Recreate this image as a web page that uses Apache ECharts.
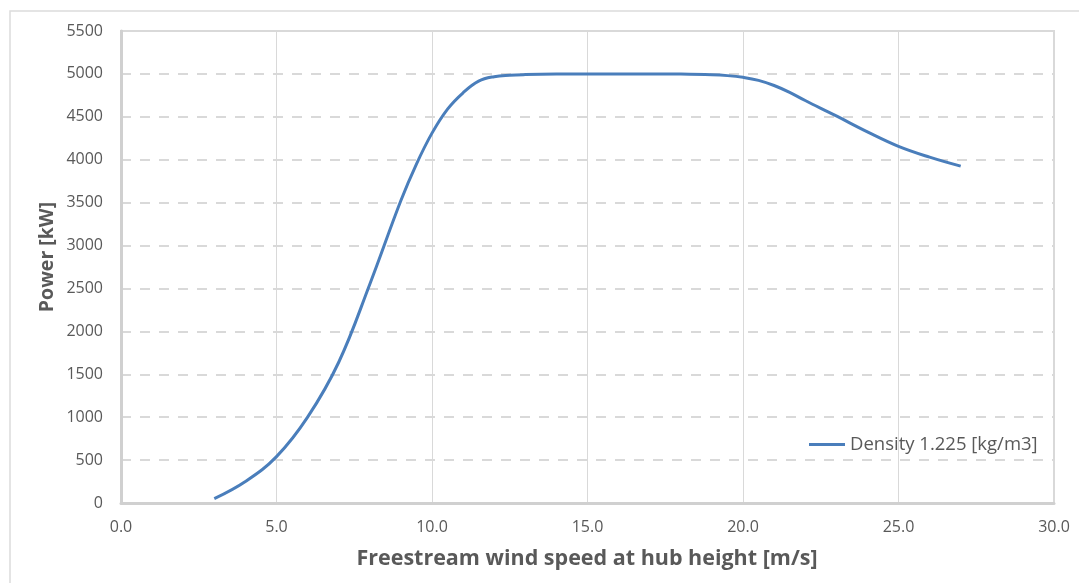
<!DOCTYPE html>
<html>
<head>
<meta charset="utf-8">
<script src="https://cdn.jsdelivr.net/npm/echarts@6/dist/echarts.min.js"></script>
<style>
html,body{margin:0;padding:0;background:#fff;}
#chart{width:1079px;height:583px;}
</style>
</head>
<body>
<div id="chart"></div>
<script>
const windSpeed = [3, 4, 5, 6, 7, 8, 9, 9.5, 10, 10.5, 11, 11.5, 12, 12.5, 13, 14, 15, 16, 17, 18, 19, 19.5, 20, 20.5, 21, 21.5, 22, 23, 24, 25, 26, 27];
const power = [50, 250, 540, 1000, 1640, 2550, 3525, 3950, 4310, 4590, 4780, 4915, 4968, 4985, 4992, 4998, 5000, 5000, 5000, 4998, 4990, 4980, 4960, 4925, 4865, 4785, 4690, 4510, 4325, 4156, 4030, 3925];
const seriesName = 'Density 1.225 [kg/m3]';
const xTitle = 'Freestream wind speed at hub height [m/s]';
const yTitle = 'Power [kW]';

const chart = echarts.init(document.getElementById('chart'));
const font = '"Open Sans", Lato, sans-serif';
const txt = '#595959';
chart.setOption({
  animation: false,
  backgroundColor: '#fff',
  grid: {left: 121, right: 25, top: 31, bottom: 80, show: true, borderColor: '#d9d9d9', borderWidth: 2},
  legend: {
    data: [seriesName], left: 804, top: 430, itemWidth: 36, itemHeight: 3, itemGap: 6,
    textStyle: {color: txt, fontSize: 18.5, fontFamily: font},
    icon: 'rect'
  },
  xAxis: {
    type: 'value', min: 0, max: 30, interval: 5,
    axisLine: {show: true, lineStyle: {color: '#d0d0d0', width: 3}},
    axisTick: {show: false},
    splitLine: {show: true, lineStyle: {color: '#d9d9d9', width: 1}},
    axisLabel: {color: txt, fontSize: 16, fontFamily: font, margin: 16, formatter: v => v.toFixed(1)}
  },
  yAxis: {
    type: 'value', min: 0, max: 5500, interval: 500,
    axisLine: {show: true, lineStyle: {color: '#d0d0d0', width: 3}},
    axisTick: {show: false},
    splitLine: {show: true, lineStyle: {color: '#d9d9d9', width: 2, type: [10, 9]}},
    axisLabel: {color: txt, fontSize: 16, fontFamily: font, margin: 18, formatter: v => String(v)}
  },
  graphic: [
    {type: 'rect', shape: {x: 10, y: 11, width: 1200, height: 700}, style: {fill: 'none', stroke: '#dcdcdc', lineWidth: 1.5}, z: -10, silent: true},
    {type: 'text', x: 587, y: 559, style: {text: xTitle, fill: txt, font: 'bold 21.5px ' + font, align: 'center', verticalAlign: 'middle'}},
    {type: 'text', rotation: Math.PI / 2, x: 47, y: 257, style: {text: yTitle, fill: txt, font: 'bold 19.5px ' + font, align: 'center', verticalAlign: 'middle'}}
  ],
  series: [{
    name: seriesName, type: 'line', smooth: 0.4, symbol: 'none',
    data: windSpeed.map((x, i) => [x, power[i]]),
    lineStyle: {color: '#4a7ebb', width: 3}, itemStyle: {color: '#4a7ebb'}
  }]
});
</script>
</body>
</html>
